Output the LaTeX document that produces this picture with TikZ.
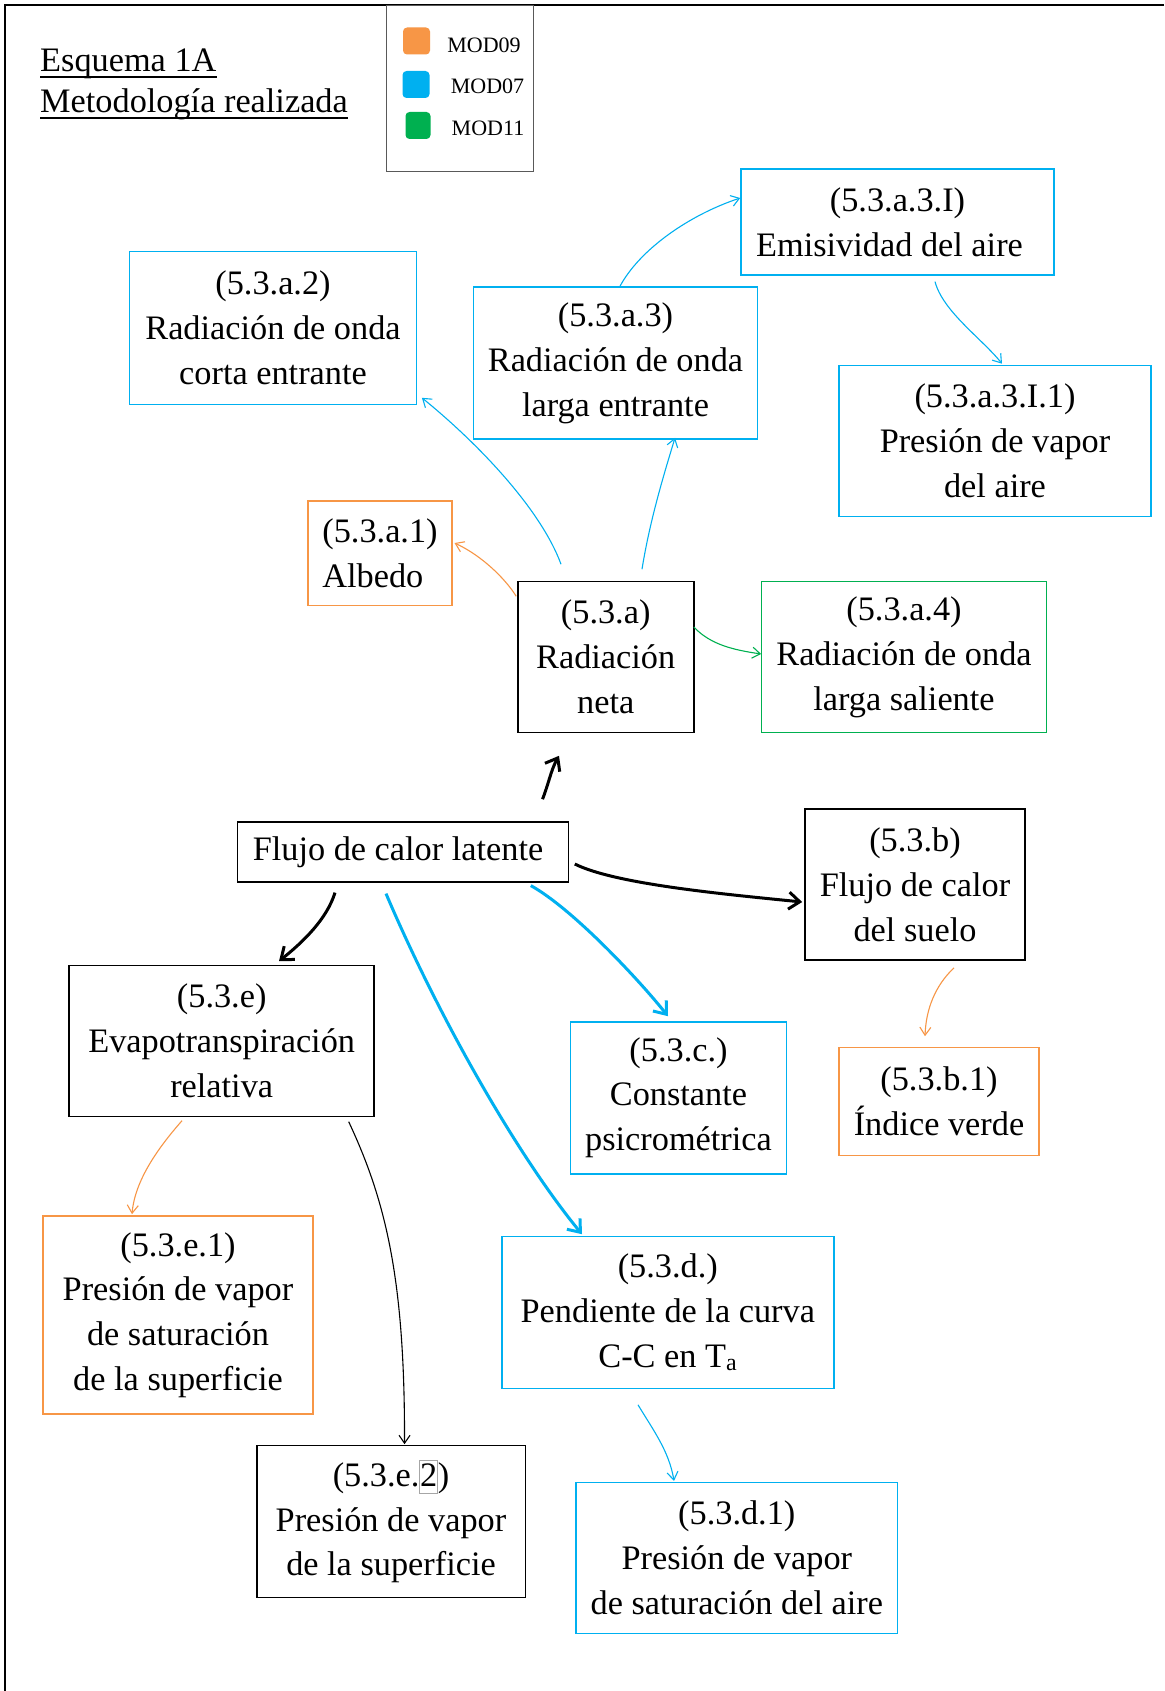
\documentclass[tikz,border=0pt]{standalone}
\usepackage{fontspec}
\setmainfont{Liberation Serif}
\usetikzlibrary{arrows.meta}

\definecolor{modorange}{HTML}{F79646}
\definecolor{modblue}{HTML}{00B0F0}
\definecolor{modgreen}{HTML}{00B050}

% digit inside a light grey frame, as in the label (5.3.e.2)
\newcommand\framedtwo{{\setlength\fboxsep{0pt}\setlength\fboxrule{0.6pt}%
  \fcolorbox{black!35}{white}{\rule[-0.2em]{0pt}{0.95em}2}}}

\tikzset{
  box/.style={line width=1.6pt, align=center, inner sep=0pt,
    font=\fontsize{34.3}{44.8}\selectfont},
  bbox/.style={box, draw=black},
  obox/.style={box, draw=modorange},
  ubox/.style={box, draw=modblue},
  gbox/.style={box, draw=modgreen},
  lnk/.style={line width=1.1pt, -{Straight Barb[length=8pt,width=11pt]}},
  blnk/.style={line width=3pt, -{Straight Barb[length=11pt,width=17pt]}},
  swatch/.style={minimum width=27pt, minimum height=27pt, inner sep=0pt,
    rounded corners=4pt},
  legendtxt/.style={inner sep=0pt, font=\fontsize{22}{26}\selectfont},
  titletxt/.style={inner sep=0pt, anchor=base west, font=\fontsize{34.3}{41}\selectfont},
}

\begin{document}
\begin{tikzpicture}[x=1pt, y=-1pt]
\useasboundingbox (0,0) rectangle (1164,1691);
\fill[white] (0,0) rectangle (1164,1691);

% page frame (top and left edges)
\draw[line width=2.2pt] (1164,5) -- (5,5) -- (5,1691);

% title
\node[titletxt] (t1) at (40,72) {Esquema 1A};
\node[titletxt] (t2) at (40,113) {Metodología realizada};
\draw[line width=1.5pt] ([yshift=-5pt]t1.base west) -- ([yshift=-5pt]t1.base east);
\draw[line width=1.5pt] ([yshift=-5pt]t2.base west) -- ([yshift=-5pt]t2.base east);

% legend
\node[draw=black!65, line width=0.9pt, minimum width=147pt, minimum height=166.5pt,
  inner sep=0pt] (legend) at (459.5,88.25) {};
\node[swatch, fill=modorange] (s09) at (416.5,41) {};
\node[swatch, fill=modblue]   (s07) at (416,84.5) {};
\node[swatch, fill=modgreen, minimum width=25pt] (s11) at (418,125.5) {};
\node[legendtxt] (m09) at (484,45) {MOD09};
\node[legendtxt] (m07) at (487.5,86) {MOD07};
\node[legendtxt] (m11) at (488,128) {MOD11};

% boxes
\node[ubox, minimum width=287pt, minimum height=153pt] (a2) at (273,328)
  {(5.3.a.2)\\Radiación de onda\\corta entrante};
\node[ubox, minimum width=283.7pt, minimum height=152pt] (a3) at (615.5,363)
  {(5.3.a.3)\\Radiación de onda\\larga entrante};
\node[ubox, minimum width=313pt, minimum height=105.7pt] (a3i) at (897.5,222)
  {(5.3.a.3.I)\\Emisividad del aire\kern16pt};
\node[ubox, minimum width=312pt, minimum height=151pt] (a3i1) at (995,441)
  {(5.3.a.3.I.1)\\Presión de vapor\\del aire};
\node[obox, align=left, minimum width=143.5pt, minimum height=104.6pt] (a1) at (380,553)
  {(5.3.a.1)\\Albedo};
\node[bbox, minimum width=176pt, minimum height=151pt] (a) at (605.7,657)
  {(5.3.a)\\Radiación\\neta};
\node[gbox, minimum width=284.8pt, minimum height=151pt] (a4) at (904,657)
  {(5.3.a.4)\\Radiación de onda\\larga saliente};
\node[bbox, minimum width=331pt, minimum height=60.4pt] (flujo) at (403,852)
  {Flujo de calor latente\kern10pt};
\node[bbox, minimum width=220pt, minimum height=151pt] (b) at (915,884.5)
  {(5.3.b)\\Flujo de calor\\del suelo};
\node[bbox, minimum width=305pt, minimum height=151pt] (e) at (221.7,1041)
  {(5.3.e)\\Evapotranspiración\\relativa};
\node[ubox, minimum width=215.7pt, minimum height=152pt] (c) at (678.5,1097.7)
  {(5.3.c.)\\Constante\\psicrométrica};
\node[obox, minimum width=199.6pt, minimum height=108pt] (b1) at (939,1101.5)
  {(5.3.b.1)\\Índice verde};
\node[obox, minimum width=269.7pt, minimum height=198.5pt] (e1) at (178,1315)
  {(5.3.e.1)\\Presión de vapor\\de saturación\\de la superficie};
\node[ubox, minimum width=332pt, minimum height=152pt] (d) at (667.8,1312.4)
  {(5.3.d.)\\Pendiente de la curva\\C-C en T\textsubscript{a}};
\node[bbox, minimum width=268.6pt, minimum height=152pt] (e2) at (391,1521.6)
  {(5.3.e.\framedtwo)\\Presión de vapor\\de la superficie};
\node[ubox, minimum width=321.5pt, minimum height=151pt] (d1) at (736.8,1557.8)
  {(5.3.d.1)\\Presión de vapor\\de saturación del aire};

% connectors from net radiation
\draw[lnk, modblue] ([shift={(-44.7,-16.5)}]a.north)
  .. controls +(-21,-57) and +(53,43) .. ([shift={(4.6,-7.5)}]a2.south east);
\draw[lnk, modblue] ([shift={(36.3,-11.5)}]a.north)
  .. controls +(8,-50) and +(-10,33) .. ([shift={(59.5,-2)}]a3.south);
\draw[lnk, modblue] ([shift={(4.5,0)}]a3.north)
  .. controls +(20,-37) and +(-51,17) .. ([shift={(0,-24)}]a3i.west);
\draw[lnk, modblue] ([shift={(37.5,6)}]a3i.south)
  .. controls +(8,30) and +(-20,-25) .. ([shift={(7,-1)}]a3i1.north);
\draw[lnk, modorange] ([shift={(-0.7,15.5)}]a.north west)
  .. controls +(-12,-19) and +(26,12) .. ([shift={(2,-10)}]a1.east);
\draw[lnk, modgreen] ([shift={(-0.7,-30)}]a.east)
  .. controls +(17,18) and +(-27,-4) .. ([shift={(0.4,-3)}]a4.west);

% connectors from latent heat flux
\draw[blnk] ([shift={(-26.8,-21.8)}]flujo.north east)
  .. controls +(6,-15) and +(-8,14) .. ([shift={(-46.7,22.5)}]a.south);
\draw[blnk] ([shift={(5.5,12)}]flujo.east)
  .. controls +(40,20) and +(-80,-8) .. ([shift={(-2,17.5)}]b.west);
\draw[blnk] ([shift={(-68,9.6)}]flujo.south)
  .. controls +(-8,26) and +(25,-20) .. ([shift={(57.3,-3.5)}]e.north);
\draw[blnk, modblue] ([shift={(-38.5,2.6)}]flujo.south east)
  .. controls +(40,22) and +(-32,-40) .. ([shift={(-10.5,-4.7)}]c.north);
\draw[blnk, modblue] ([shift={(-17,10.6)}]flujo.south)
  .. controls +(54,127) and +(-62,-75) .. ([shift={(-85.8,-1.4)}]d.north);

% second-level connectors
\draw[lnk, modorange] ([shift={(39,7)}]b.south)
  .. controls +(-19,18) and +(1,-27) .. ([shift={(-14,-10.5)}]b1.north);
\draw[lnk, modorange] ([shift={(-39.7,3.4)}]e.south)
  .. controls +(-22,25) and +(3,-35) .. ([shift={(-46,-0.8)}]e1.north);
\draw[lnk, black] ([shift={(-26.3,4.4)}]e.south east)
  .. controls +(37,79) and +(0.5,-165) .. ([shift={(13.5,-0.6)}]e2.north);
\draw[lnk, modblue] ([shift={(-29.8,15.6)}]d.south)
  .. controls +(15,25) and +(-5,-30) .. ([shift={(-62.8,-0.6)}]d1.north);
\end{tikzpicture}
\end{document}
